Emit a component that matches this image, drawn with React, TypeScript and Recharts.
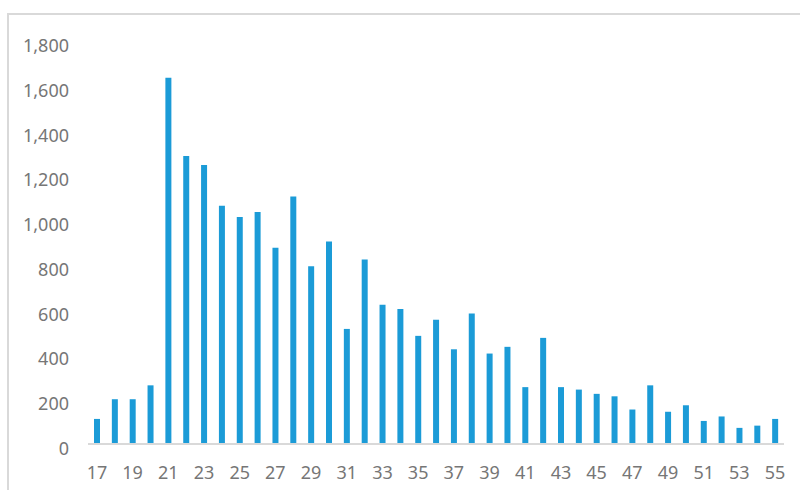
import React from "react";
import { BarChart, Bar, XAxis, YAxis } from "recharts";

const ages = [
  17, 18, 19, 20, 21, 22, 23, 24, 25, 26, 27, 28, 29, 30, 31, 32, 33, 34, 35,
  36, 37, 38, 39, 40, 41, 42, 43, 44, 45, 46, 47, 48, 49, 50, 51, 52, 53, 54, 55,
];
const counts = [
  112, 200, 200, 262, 1636, 1286, 1246, 1064, 1014, 1036, 876, 1106, 794, 905,
  514, 824, 622, 603, 483, 555, 423, 583, 404, 434, 254, 474, 254, 243, 224, 213,
  154, 262, 144, 173, 103, 123, 72, 82, 112,
];
const yTicks = [0, 200, 400, 600, 800, 1000, 1200, 1400, 1600, 1800];

const data = ages.map((age, i) => ({ age: String(age), count: counts[i] }));

const font = "'Noto Sans', sans-serif";
const grey = "#767676";

const YTick = (props: any) => {
  const { y, payload } = props;
  return (
    <text x={69} y={y + 4} textAnchor="end" dominantBaseline="central" fill={grey} fontSize={18} fontFamily={font}>
      {payload.value.toLocaleString("en-US")}
    </text>
  );
};

const XTick = (props: any) => {
  const { x, payload } = props;
  return (
    <text x={x} y={472} textAnchor="middle" dominantBaseline="central" fill={grey} fontSize={18} fontFamily={font}>
      {payload.value}
    </text>
  );
};

export default function App() {
  return (
    <div style={{ position: "absolute", left: 0, top: 0, width: 800, height: 490, background: "#fff", overflow: "hidden" }}>
      <div
        style={{
          position: "absolute",
          left: 7,
          top: 13,
          width: 820,
          height: 500,
          borderTop: "2px solid #d9d9d9",
          borderLeft: "2px solid #d9d9d9",
        }}
      />
      <div style={{ position: "absolute", left: 0, top: 0 }}>
        <BarChart
          width={800}
          height={490}
          data={data}
          margin={{ top: 41, right: 16, left: 0, bottom: 0 }}
          barCategoryGap={0}
        >
          <XAxis
            dataKey="age"
            interval={1}
            height={46}
            axisLine={{ stroke: "#d9d9d9", strokeWidth: 2 }}
            tickLine={false}
            tick={<XTick />}
          />
          <YAxis
            width={88}
            domain={[0, 1800]}
            ticks={yTicks}
            axisLine={false}
            tickLine={false}
            tick={<YTick />}
          />
          <Bar dataKey="count" fill="#1B9BD7" barSize={6} isAnimationActive={false} />
        </BarChart>
      </div>
    </div>
  );
}
